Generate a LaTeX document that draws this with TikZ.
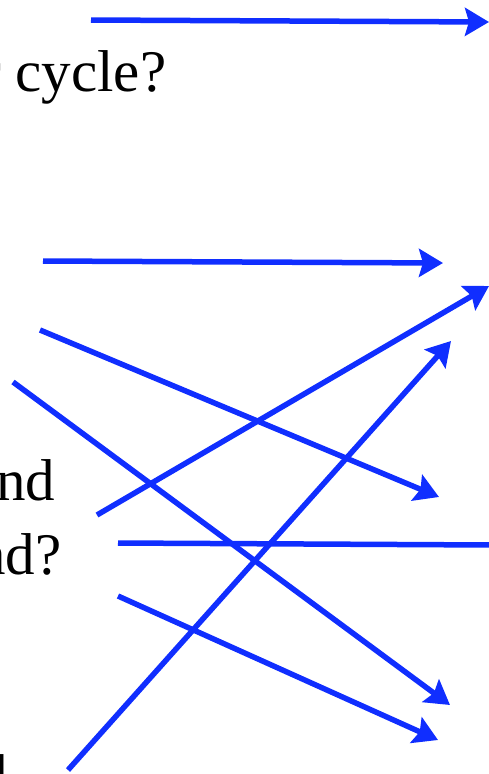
\documentclass[tikz,border=0pt]{standalone}
\usepackage{fontspec}
\setmainfont{Liberation Serif}
\usetikzlibrary{arrows.meta}

\definecolor{linkblue}{RGB}{16,46,255}
\tikzset{
    link/.style={linkblue, line width=5.5pt},
    linkarrow/.style={link, -{Stealth[length=24pt,width=28pt,inset=4pt]}},
    qtext/.style={anchor=base west, inner sep=0pt, font=\fontsize{59}{70}\selectfont},
}

\begin{document}
\begin{tikzpicture}[x=1pt,y=-1pt]
    \useasboundingbox (0,0) rectangle (489,774);

    % questions, cut off at the left edge
    \node[qtext] (qa) at (-23,22) {?};
    \node[qtext] (qb) at (-19,91) {r cycle?};
    \node[qtext] (qc) at (-4,500) {nd};
    \node[qtext] (qd) at (-24,574) {nd?};
    \node[qtext] (qe) at (-22,795) {d};

    % arrow ends
    \coordinate (s1) at (91,20);   \coordinate (e1) at (489,22);
    \coordinate (s2) at (43,261);  \coordinate (e2) at (443,263);
    \coordinate (s3) at (97,515);  \coordinate (e3) at (489,286);
    \coordinate (s4) at (40,330);  \coordinate (e4) at (439,497);
    \coordinate (s5) at (13,382);  \coordinate (e5) at (450,705);
    \coordinate (s6) at (118,543); \coordinate (e6) at (492,545);
    \coordinate (s7) at (118,596); \coordinate (e7) at (438,740);
    \coordinate (s8) at (68,770);  \coordinate (e8) at (451,341);

    \draw[linkarrow] (s1) -- (e1);
    \draw[linkarrow] (s2) -- (e2);
    \draw[linkarrow] (s3) -- (e3);
    \draw[linkarrow] (s4) -- (e4);
    \draw[linkarrow] (s5) -- (e5);
    \draw[link] (s6) -- (e6);
    \draw[linkarrow] (s7) -- (e7);
    \draw[linkarrow] (s8) -- (e8);
\end{tikzpicture}
\end{document}
